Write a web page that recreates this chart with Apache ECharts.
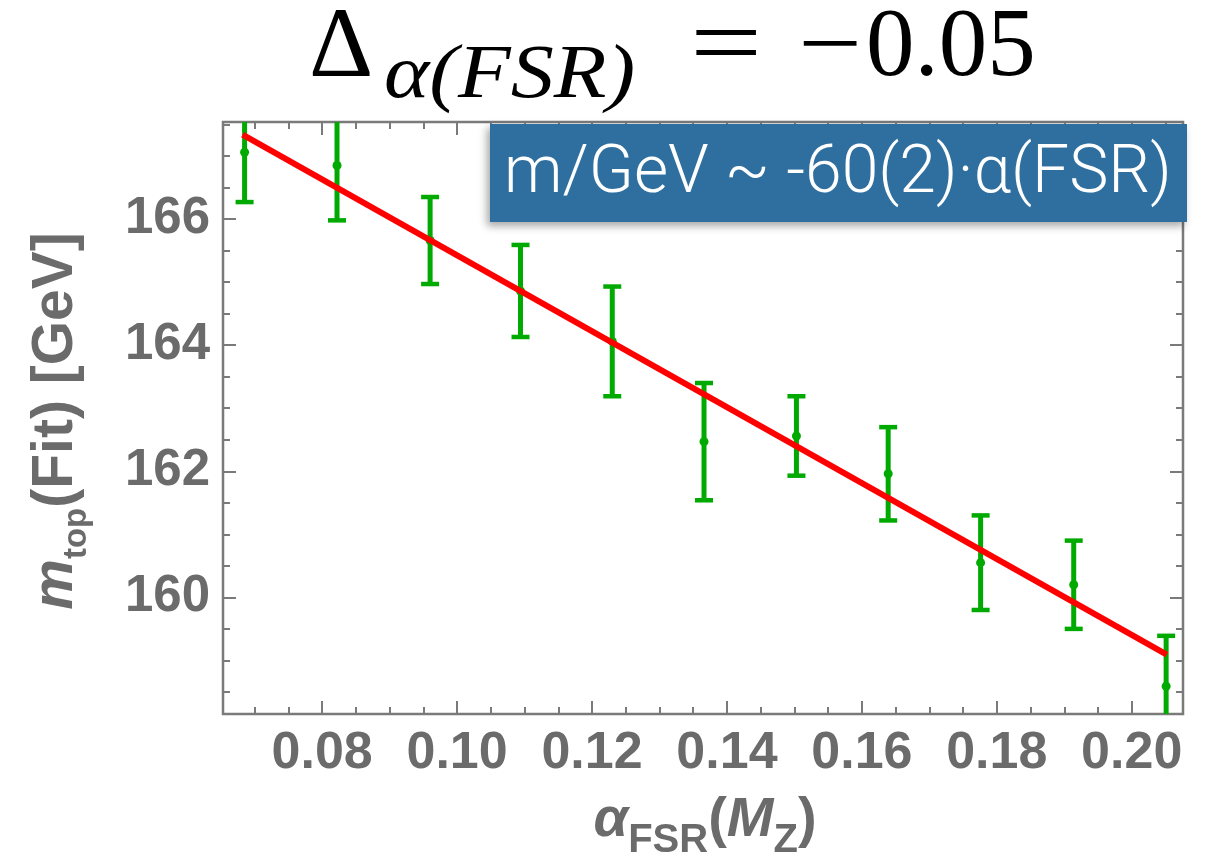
<!DOCTYPE html>
<html><head><meta charset="utf-8">
<script src="https://cdn.jsdelivr.net/npm/echarts@6/dist/echarts.min.js"></script>
<style>html,body{margin:0;padding:0;background:#fff}#c{width:1214px;height:863px}</style>
</head><body><div id="c"></div>
<script>
// ---- data ----
const alphaFSR = [0.0685, 0.0822, 0.0960, 0.1094, 0.1230, 0.1366, 0.1503, 0.1639, 0.1776, 0.1914, 0.2051];
const mTop     = [167.06, 166.85, 165.66, 164.86, 164.06, 162.47, 162.56, 161.96, 160.55, 160.20, 158.59];
const mTopErr  = [0.79, 0.87, 0.69, 0.73, 0.87, 0.93, 0.63, 0.74, 0.75, 0.70, 0.80];
const fitAlpha = [0.0682, 0.2052];
const fitMass  = [167.34, 159.09];
const xMajorTicks = [0.08, 0.10, 0.12, 0.14, 0.16, 0.18, 0.20];
const xMinorTicks = [0.07, 0.075, 0.085, 0.09, 0.095, 0.105, 0.11, 0.115, 0.125, 0.13, 0.135, 0.145, 0.15, 0.155, 0.165, 0.17, 0.175, 0.185, 0.19, 0.195, 0.205];
const yMajorTicks = [160, 162, 164, 166];
const yMinorTicks = [158.5, 159, 159.5, 160.5, 161, 161.5, 162.5, 163, 163.5, 164.5, 165, 165.5, 166.5, 167, 167.5];
const xRange = [0.0653, 0.2076];
const yRange = [158.15, 167.54];

const GRAY = '#6b6b6b';
const AXC = '#7a7a7a';
const GREEN = '#00aa00';

function xAx(pos, ticks, len, labels) {
  return {
    type: 'value', min: xRange[0], max: xRange[1], position: pos,
    axisLine: {show: false}, splitLine: {show: false},
    axisTick: {show: true, inside: true, customValues: ticks, length: len, lineStyle: {color: AXC, width: 2}},
    axisLabel: labels ? {show: true, customValues: ticks, formatter: v => v.toFixed(2), fontSize: 52, fontWeight: 'bold', fontFamily: 'Liberation Sans', color: GRAY, margin: 14} : {show: false}
  };
}
function yAx(pos, ticks, len, labels) {
  return {
    type: 'value', min: yRange[0], max: yRange[1], position: pos,
    axisLine: {show: false}, splitLine: {show: false},
    axisTick: {show: true, inside: true, customValues: ticks, length: len, lineStyle: {color: AXC, width: 2}},
    axisLabel: labels ? {show: true, customValues: ticks, formatter: v => String(v), fontSize: 51, fontWeight: 'bold', fontFamily: 'Liberation Sans', color: GRAY, margin: 13} : {show: false}
  };
}

const chart = echarts.init(document.getElementById('c'), null, {renderer: 'canvas'});
chart.setOption({
  animation: false,
  backgroundColor: '#fff',
  grid: {left: 223, right: 31, top: 122, bottom: 149, show: true, borderColor: AXC, borderWidth: 2.5, backgroundColor: 'transparent'},
  xAxis: [xAx('bottom', xMajorTicks, 13, true), xAx('bottom', xMinorTicks, 7, false), xAx('top', xMajorTicks, 13, false), xAx('top', xMinorTicks, 7, false)],
  yAxis: [yAx('left', yMajorTicks, 13, true), yAx('left', yMinorTicks, 7, false), yAx('right', yMajorTicks, 13, false), yAx('right', yMinorTicks, 7, false)],
  series: [
    {
      type: 'custom', xAxisIndex: 0, yAxisIndex: 0, z: 2,
      data: alphaFSR.map((a, i) => [a, mTop[i], mTopErr[i]]),
      renderItem: function (params, api) {
        const x = api.value(0), y = api.value(1), e = api.value(2);
        const c = api.coord([x, y]);
        const t = api.coord([x, y + e]);
        const b = api.coord([x, y - e]);
        const cs = params.coordSys;
        const yTop = cs.y, yBot = cs.y + cs.height;
        const ch = [];
        ch.push({type: 'line', shape: {x1: c[0], y1: Math.max(t[1], yTop), x2: c[0], y2: Math.min(b[1], yBot)}, style: {stroke: GREEN, lineWidth: 5}});
        if (t[1] >= yTop) ch.push({type: 'line', shape: {x1: c[0] - 9, y1: t[1], x2: c[0] + 9, y2: t[1]}, style: {stroke: GREEN, lineWidth: 4.5}});
        if (b[1] <= yBot) ch.push({type: 'line', shape: {x1: c[0] - 9, y1: b[1], x2: c[0] + 9, y2: b[1]}, style: {stroke: GREEN, lineWidth: 4.5}});
        ch.push({type: 'circle', shape: {cx: c[0], cy: c[1], r: 4.5}, style: {fill: GREEN}});
        return {type: 'group', children: ch};
      }
    },
    {
      type: 'line', xAxisIndex: 0, yAxisIndex: 0, z: 3,
      data: fitAlpha.map((a, i) => [a, fitMass[i]]),
      symbol: 'none', silent: true,
      lineStyle: {color: '#ff0000', width: 6}
    }
  ],
  graphic: [
    // title pieces
    {type: 'text', x: 309, y: 50, style: {text: 'Δ', fontFamily: 'Liberation Serif', fontSize: 100, fill: '#000', verticalAlign: 'middle'}},
    {type: 'text', x: 384, y: 77, scaleX: 1.12, style: {text: 'α(FSR)', fontFamily: 'Liberation Serif', fontStyle: 'italic', fontSize: 77, fill: '#000', verticalAlign: 'middle'}},
    {type: 'text', x: 690, y: 50, scaleX: 1.28, style: {text: '=', fontFamily: 'Liberation Serif', fontSize: 100, fill: '#000', verticalAlign: 'middle'}},
    {type: 'text', x: 798, y: 50, scaleX: 1.18, style: {text: '−', fontFamily: 'Liberation Serif', fontSize: 96, fill: '#000', verticalAlign: 'middle'}},
    {type: 'text', x: 866, y: 50, style: {text: '0.05', fontFamily: 'Liberation Serif', fontSize: 97, fill: '#000', verticalAlign: 'middle'}},
    // annotation box
    {type: 'rect', z: 50, shape: {x: 490, y: 124, width: 697, height: 98},
      style: {fill: '#2e6f9f', shadowBlur: 8, shadowOffsetX: -3, shadowOffsetY: 4, shadowColor: 'rgba(0,0,0,0.35)'}},
    {type: 'text', z: 51, x: 504, y: 175, style: {text: 'm/GeV ~ -60(2)·α(FSR)', fontFamily: 'Roboto', fontWeight: 300, fontSize: 66, fill: '#fff', verticalAlign: 'middle'}},
    // y axis name
    {type: 'text', x: 56, y: 421, rotation: Math.PI / 2,
      style: {text: '{m|m}{s|top}{n|(Fit) [GeV]}', align: 'center', verticalAlign: 'middle',
        rich: {
          m: {fontFamily: 'Liberation Sans', fontWeight: 'bold', fontStyle: 'italic', fontSize: 57, lineHeight: 57, verticalAlign: 'top', fill: GRAY},
          s: {fontFamily: 'Liberation Sans', fontWeight: 'bold', fontSize: 33, lineHeight: 33, verticalAlign: 'top', padding: [33, 0, 0, 0], fill: GRAY},
          n: {fontFamily: 'Liberation Sans', fontWeight: 'bold', fontSize: 57, lineHeight: 57, verticalAlign: 'top', fill: GRAY}
        }}},
    // x axis name
    {type: 'text', x: 705, y: 821,
      style: {text: '{a|α}{s|FSR}{n|(}{a|M}{s|Z}{n|)}', align: 'center', verticalAlign: 'middle',
        rich: {
          a: {fontFamily: 'Liberation Sans', fontWeight: 'bold', fontStyle: 'italic', fontSize: 56, lineHeight: 56, verticalAlign: 'top', fill: GRAY},
          s: {fontFamily: 'Liberation Sans', fontWeight: 'bold', fontSize: 40, lineHeight: 40, verticalAlign: 'top', padding: [28, 0, 0, 0], fill: GRAY},
          n: {fontFamily: 'Liberation Sans', fontWeight: 'bold', fontSize: 56, lineHeight: 56, verticalAlign: 'top', fill: GRAY}
        }}}
  ]
});
</script></body></html>
